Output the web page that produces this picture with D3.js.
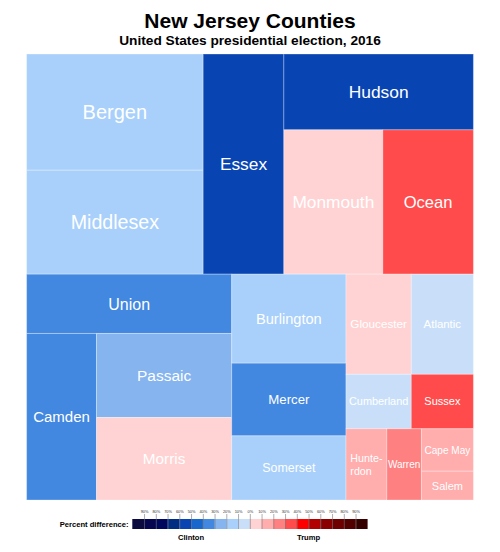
<!DOCTYPE html>
<html>
<head>
<meta charset="utf-8">
<script src="https://cdn.jsdelivr.net/npm/d3@7"></script>
<style>
  html, body { margin: 0; padding: 0; background: #fff; }
  svg { display: block; font-family: "Liberation Sans", Arial, Helvetica, sans-serif; }
</style>
</head>
<body>
<svg id="chart" width="500" height="552"></svg>
<script>
// ---------- data ----------
const counties = ["Bergen","Middlesex","Essex","Hudson","Monmouth","Ocean","Union","Camden","Passaic","Morris",
  "Burlington","Mercer","Somerset","Gloucester","Atlantic","Cumberland","Sussex","Hunterdon","Warren","Cape May","Salem"];
// tile size: county population
const population = [905116,809858,783969,634266,630380,576567,536499,513657,501226,492276,
  448734,366513,323444,288288,274549,156898,149265,128349,108692,97265,66083];
// percentage-point margin, Trump minus Clinton (negative = Clinton lead)
const margin = [-12.3,-19.5,-56.4,-52.0,9.0,31.8,-34.2,-32.3,-22.5,5.1,
  -11.3,-36.7,-14.0,4.6,-4.0,-5.0,31.0,12.9,24.9,19.7,16.9];
// label text shown in tiles
const labels = ["Bergen","Middlesex","Essex","Hudson","Monmouth","Ocean","Union","Camden","Passaic","Morris",
  "Burlington","Mercer","Somerset","Gloucester","Atlantic","Cumberland","Sussex","Hunte-\nrdon","Warren","Cape May","Salem"];
// nesting of the treemap
const groups = [
  [["Bergen","Middlesex"], "Essex", ["Hudson", ["Monmouth","Ocean"]]],
  [["Union", ["Camden", ["Passaic","Morris"]]],
   ["Burlington","Mercer","Somerset"],
   [["Gloucester","Atlantic"], ["Cumberland","Sussex"], ["Hunterdon","Warren",["Cape May","Salem"]]]]
];
// legend
const clintonColors = ["#c9dff9","#a8d0fb","#85b4ef","#4287e0","#1767cc","#0845b3","#002d82","#00085e","#060650","#0b0b40"];
const trumpColors   = ["#ffd3d3","#ffadad","#ff8080","#ff4b4b","#ff0000","#b20000","#8a0000","#6e0000","#520000","#360000"];
const legendTicks = [-90,-80,-70,-60,-50,-40,-30,-20,-10,0,10,20,30,40,50,60,70,80,90];

// ---------- setup ----------
const svg = d3.select("#chart");
const W = 500;
const color = d3.scaleThreshold()
  .domain(legendTicks)
  .range(clintonColors.slice().reverse().concat(trumpColors));

svg.append("text").attr("x", W/2).attr("y", 27.7).attr("text-anchor","middle")
  .attr("font-weight","bold").attr("font-size", 21).attr("fill","#000").text("New Jersey Counties");
svg.append("text").attr("x", W/2).attr("y", 45.3).attr("text-anchor","middle")
  .attr("font-weight","bold").attr("font-size", 13.7).attr("fill","#000").text("United States presidential election, 2016");

// ---------- treemap ----------
const byName = {};
counties.forEach((c,i) => byName[c] = {pop: population[i], margin: margin[i], label: labels[i]});
function build(item) {
  if (typeof item === "string") return {name: item};
  return {children: item.map(build)};
}
const root = d3.hierarchy(build(groups)).sum(d => d.name ? byName[d.name].pop : 0);
function tile(node, x0, y0, x1, y1) {
  (node.depth % 2 === 0 ? d3.treemapSlice : d3.treemapDice)(node, x0, y0, x1, y1);
}
const tmX = 26.6, tmY = 54, tmW = 446.8, tmH = 446;
d3.treemap().tile(tile).size([tmW, tmH]).round(false)(root);

const g = svg.append("g").attr("transform", `translate(${tmX},${tmY})`);
const leaves = root.leaves();
const cell = g.selectAll("g.cell").data(leaves).join("g").attr("class","cell");
cell.append("rect")
  .attr("x", d => d.x0).attr("y", d => d.y0)
  .attr("width", d => d.x1 - d.x0).attr("height", d => d.y1 - d.y0)
  .attr("fill", d => color(byName[d.data.name].margin))
  .attr("stroke", "#fff").attr("stroke-opacity", 0.3).attr("stroke-width", 1);

cell.each(function(d) {
  const w = d.x1 - d.x0, h = d.y1 - d.y0;
  const cx = (d.x0 + d.x1) / 2, cy = (d.y0 + d.y1) / 2;
  const lines = byName[d.data.name].label.split("\n");
  let fs = Math.min(0.145 * Math.sqrt(w * h), 0.215 * w);
  fs = Math.max(11, Math.min(20, fs));
  const t = d3.select(this).append("text")
    .attr("fill", "#fff").attr("font-size", fs);
  if (lines.length === 1) {
    t.attr("x", cx).attr("y", cy).attr("dy", "0.36em").attr("text-anchor", "middle").text(lines[0]);
    const tw = t.node().getComputedTextLength();
    if (tw > w - 6) {
      fs = Math.max(10, fs * (w - 6) / tw);
      t.attr("font-size", fs);
    }
  } else {
    const lh = 1.25;
    lines.forEach((ln, i) => {
      t.append("tspan").attr("y", cy).attr("dy", ((i - (lines.length - 1) / 2) * lh + 0.36) + "em").text(ln);
    });
    let maxW = 0;
    t.selectAll("tspan").each(function() { maxW = Math.max(maxW, this.getComputedTextLength()); });
    t.selectAll("tspan").attr("x", cx - maxW / 2);
    t.attr("font-size", 10.7);
    maxW = 0;
    t.selectAll("tspan").each(function() { maxW = Math.max(maxW, this.getComputedTextLength()); });
    t.selectAll("tspan").attr("x", cx - maxW / 2);
  }
});

// ---------- legend ----------
const lx = d3.scaleLinear().domain([-100, 100]).range([132.3, 367.3]);
const barY = 519, barH = 10;
const lg = svg.append("g");
lg.selectAll("rect").data(d3.range(-100, 100, 10)).join("rect")
  .attr("x", d => lx(d)).attr("y", barY)
  .attr("width", d => lx(d + 10) - lx(d) + 0.3).attr("height", barH)
  .attr("fill", d => color(d + 5));

const axis = d3.axisTop(lx).tickValues(legendTicks).tickSize(15).tickPadding(0.6)
  .tickFormat(d => Math.abs(d) + "%");
const ax = lg.append("g").attr("transform", `translate(0,${barY + barH})`).call(axis);
ax.select(".domain").remove();
ax.selectAll(".tick line").attr("stroke", "#777").attr("stroke-width", 0.6);
ax.selectAll(".tick text").attr("font-size", 3.9).attr("fill", "#333")
  .attr("font-family", "\"Liberation Sans\", Arial, sans-serif");

lg.append("text").attr("x", 128.5).attr("y", 526.6).attr("text-anchor", "end")
  .attr("font-weight", "bold").attr("font-size", 7.6).attr("fill", "#000").text("Percent difference:");
lg.append("text").attr("x", (lx(-100) + lx(0)) / 2).attr("y", 539.5).attr("text-anchor", "middle")
  .attr("font-weight", "bold").attr("font-size", 7.6).attr("fill", "#000").text("Clinton");
lg.append("text").attr("x", (lx(0) + lx(100)) / 2).attr("y", 539.5).attr("text-anchor", "middle")
  .attr("font-weight", "bold").attr("font-size", 7.6).attr("fill", "#000").text("Trump");
</script>
</body>
</html>
